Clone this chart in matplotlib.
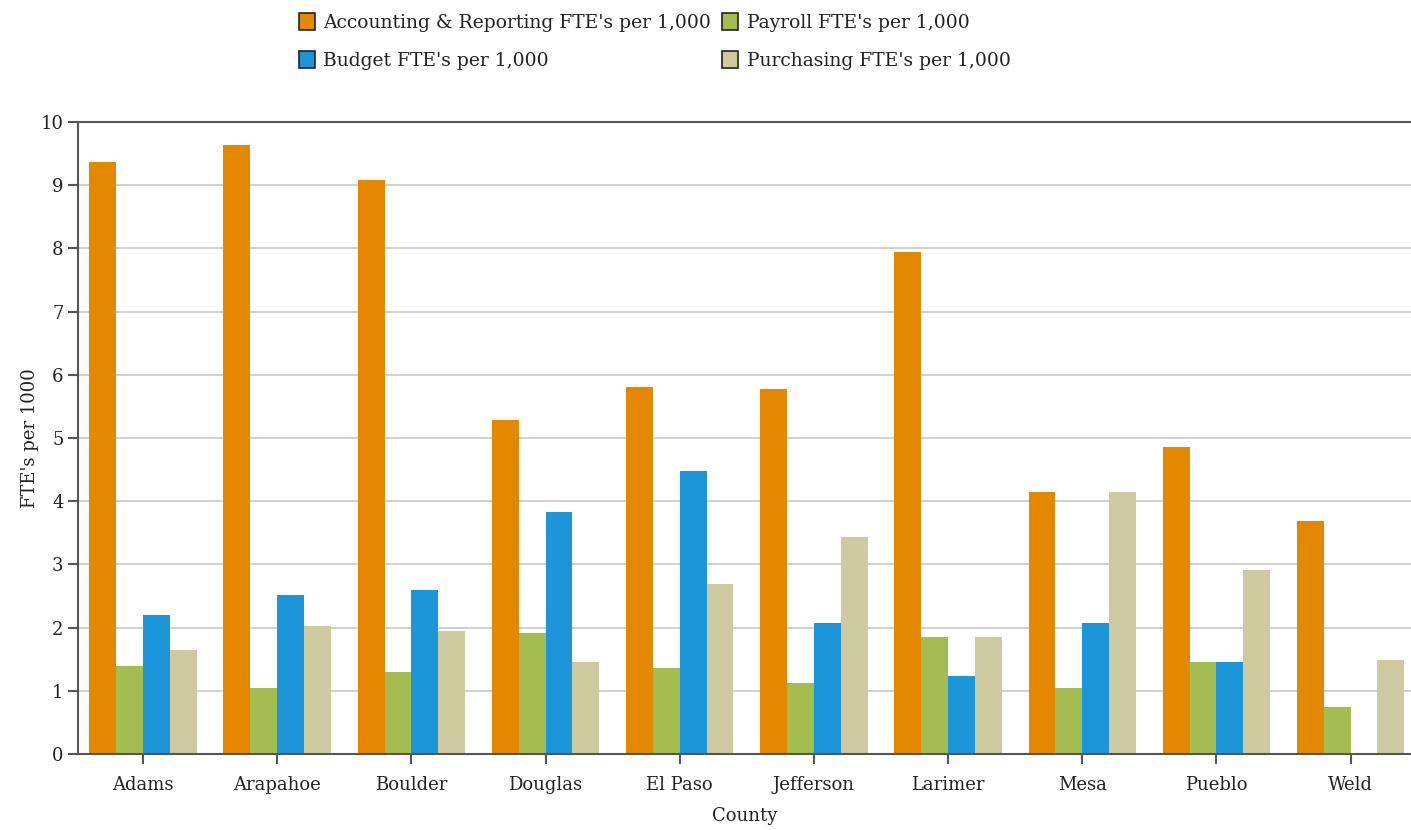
import numpy as np
import matplotlib
matplotlib.use("Agg")
import matplotlib.pyplot as plt

counties = ["Adams", "Arapahoe", "Boulder", "Douglas", "El Paso",
            "Jefferson", "Larimer", "Mesa", "Pueblo", "Weld"]
accounting = [9.37, 9.64, 9.08, 5.28, 5.81, 5.78, 7.94, 4.15, 4.86, 3.69]
payroll = [1.39, 1.04, 1.30, 1.91, 1.36, 1.12, 1.85, 1.04, 1.46, 0.74]
budget = [2.20, 2.52, 2.59, 3.83, 4.48, 2.07, 1.23, 2.07, 1.46, 0.0]
purchasing = [1.65, 2.03, 1.95, 1.46, 2.69, 3.43, 1.85, 4.15, 2.91, 1.49]

series = [
    ("Accounting & Reporting FTE's per 1,000", accounting, "#e38800"),
    ("Payroll FTE's per 1,000", payroll, "#a5bd50"),
    ("Budget FTE's per 1,000", budget, "#1c96d8"),
    ("Purchasing FTE's per 1,000", purchasing, "#ccca9e"),
]

plt.rcParams["font.family"] = ["DejaVu Serif"]
axis_col = "#555555"
text_col = "#222222"

fig = plt.figure(figsize=(14.11, 8.30), dpi=100)
ax = fig.add_axes([0.0553, 0.0916, 0.9447, 0.7614])

x = np.arange(len(counties))
w = 0.2
bars = []
for i, (name, vals, col) in enumerate(series):
    b = ax.bar(x + (i - 1.5) * w, vals, w, color=col, label=name, zorder=2)
    bars.append(b)

ax.set_ylim(0, 10)
ax.set_xlim(-0.484, 9.45)
ax.set_yticks(range(11))
ax.set_xticks(x)
ax.set_xticklabels(counties)
ax.grid(axis="y", color="#c8c8c8", lw=1.2, zorder=0)
ax.tick_params(axis="both", colors=axis_col, labelcolor=text_col,
               labelsize=13, length=7, width=1.5)
ax.tick_params(axis="x", pad=9)
for s in ["left", "bottom", "top"]:
    ax.spines[s].set_color(axis_col)
    ax.spines[s].set_linewidth(1.5)
ax.spines["right"].set_visible(False)

ax.set_xlabel("County", fontsize=13, color=text_col, labelpad=9)
ax.set_ylabel("FTE's per 1000", fontsize=13, color=text_col, labelpad=1)

# legend: column-wise fill, so reorder handles to match the layout
order = [0, 2, 1, 3]
handles = [bars[i] for i in order]
labels = [series[i][0] for i in order]
leg = fig.legend(handles, labels, ncol=2, loc="upper center",
                 bbox_to_anchor=(0.464, 1.005), frameon=False, fontsize=13.5,
                 handlelength=0.85, handleheight=1.0, handletextpad=0.45,
                 columnspacing=0.6, labelspacing=1.05)
for h in leg.legend_handles:
    h.set_edgecolor("#222222")
    h.set_linewidth(1.2)
for t in leg.get_texts():
    t.set_color(text_col)

fig.savefig("out.png", dpi=100)
